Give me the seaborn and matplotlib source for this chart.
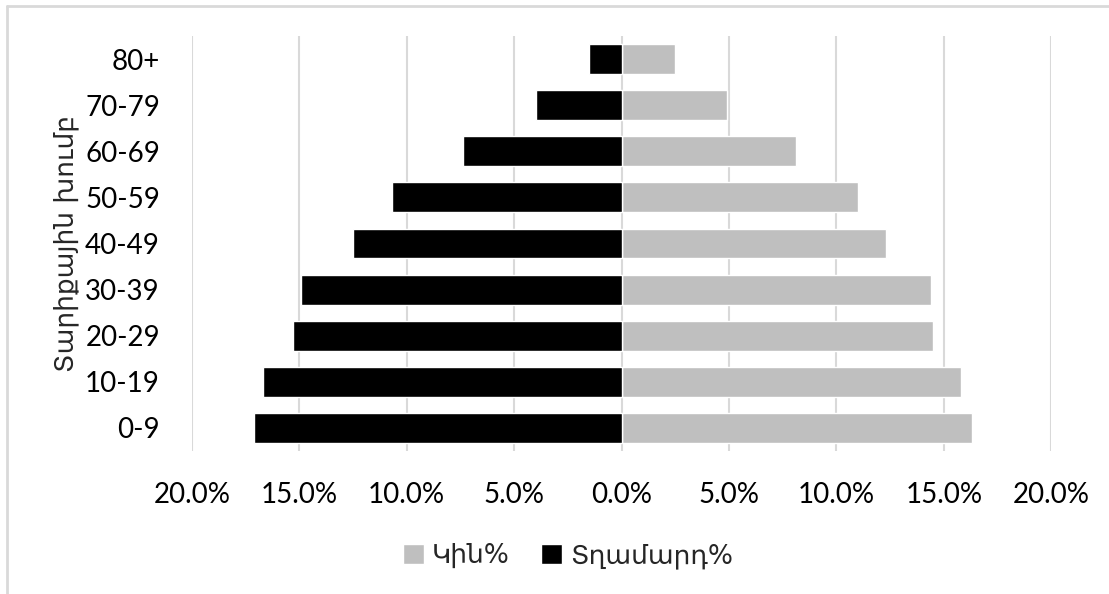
import pandas as pd
import matplotlib
matplotlib.use("Agg")
import matplotlib.pyplot as plt
from matplotlib.lines import Line2D
from matplotlib.ticker import FuncFormatter
import seaborn as sns

# data
age_groups = ["80+", "70-79", "60-69", "50-59", "40-49", "30-39", "20-29", "10-19", "0-9"]
women_pct = [2.5, 4.9, 8.1, 11.0, 12.3, 14.4, 14.5, 15.8, 16.3]
men_pct = [1.5, 4.0, 7.4, 10.7, 12.5, 14.9, 15.3, 16.7, 17.1]
women_label = "Կին%"
men_label = "Տղամարդ%"
x_ticks = [-20, -15, -10, -5, 0, 5, 10, 15, 20]

df = pd.concat([
    pd.DataFrame({"age": age_groups, "value": women_pct, "sex": women_label}),
    pd.DataFrame({"age": age_groups, "value": [-v for v in men_pct], "sex": men_label}),
], ignore_index=True)

sns.set_style("white")
plt.rcParams["font.family"] = ["Lato", "DejaVu Sans"]

fig = plt.figure(figsize=(11.09, 5.94), dpi=100)
ax = fig.add_axes([0.173, 0.2407, 0.775, 0.6987])

sns.barplot(data=df, y="age", x="value", hue="sex", order=age_groups,
            hue_order=[women_label, men_label], dodge=False, orient="h",
            palette={women_label: "#bfbfbf", men_label: "#000000"},
            width=0.65, ax=ax, zorder=3)

ax.set_xlim(-20, 20)
ax.set_xticks(x_ticks)
ax.xaxis.set_major_formatter(FuncFormatter(lambda v, p: "%.1f%%" % abs(v)))
ax.grid(axis="x", color="#d9d9d9", linewidth=1.5, zorder=0)
ax.grid(axis="y", visible=False)
ax.set_axisbelow(True)
for s in ax.spines.values():
    s.set_visible(False)
ax.tick_params(axis="both", length=0, labelsize=20, colors="black")
ax.tick_params(axis="y", pad=23)
ax.tick_params(axis="x", pad=22)
ax.set_xlabel("")
ax.set_ylabel("Տարիքային խումբ", fontsize=19, labelpad=4, family=["DejaVu Sans"])

ax.legend(loc="center", bbox_to_anchor=(0.512, 0.064), bbox_transform=fig.transFigure,
          ncol=2, frameon=False, handlelength=0.8, handleheight=0.8,
          handletextpad=0.3, columnspacing=1.2,
          prop={"family": ["DejaVu Sans"], "size": 19})

# outer chart frame, cut at the right and bottom
x0 = 7 / 1109
y0 = 1 - 6 / 594
fig.add_artist(Line2D([x0, x0], [0, y0], color="#d9d9d9", linewidth=2, transform=fig.transFigure))
fig.add_artist(Line2D([x0, 1], [y0, y0], color="#d9d9d9", linewidth=2, transform=fig.transFigure))

fig.savefig("out.png", dpi=100)
